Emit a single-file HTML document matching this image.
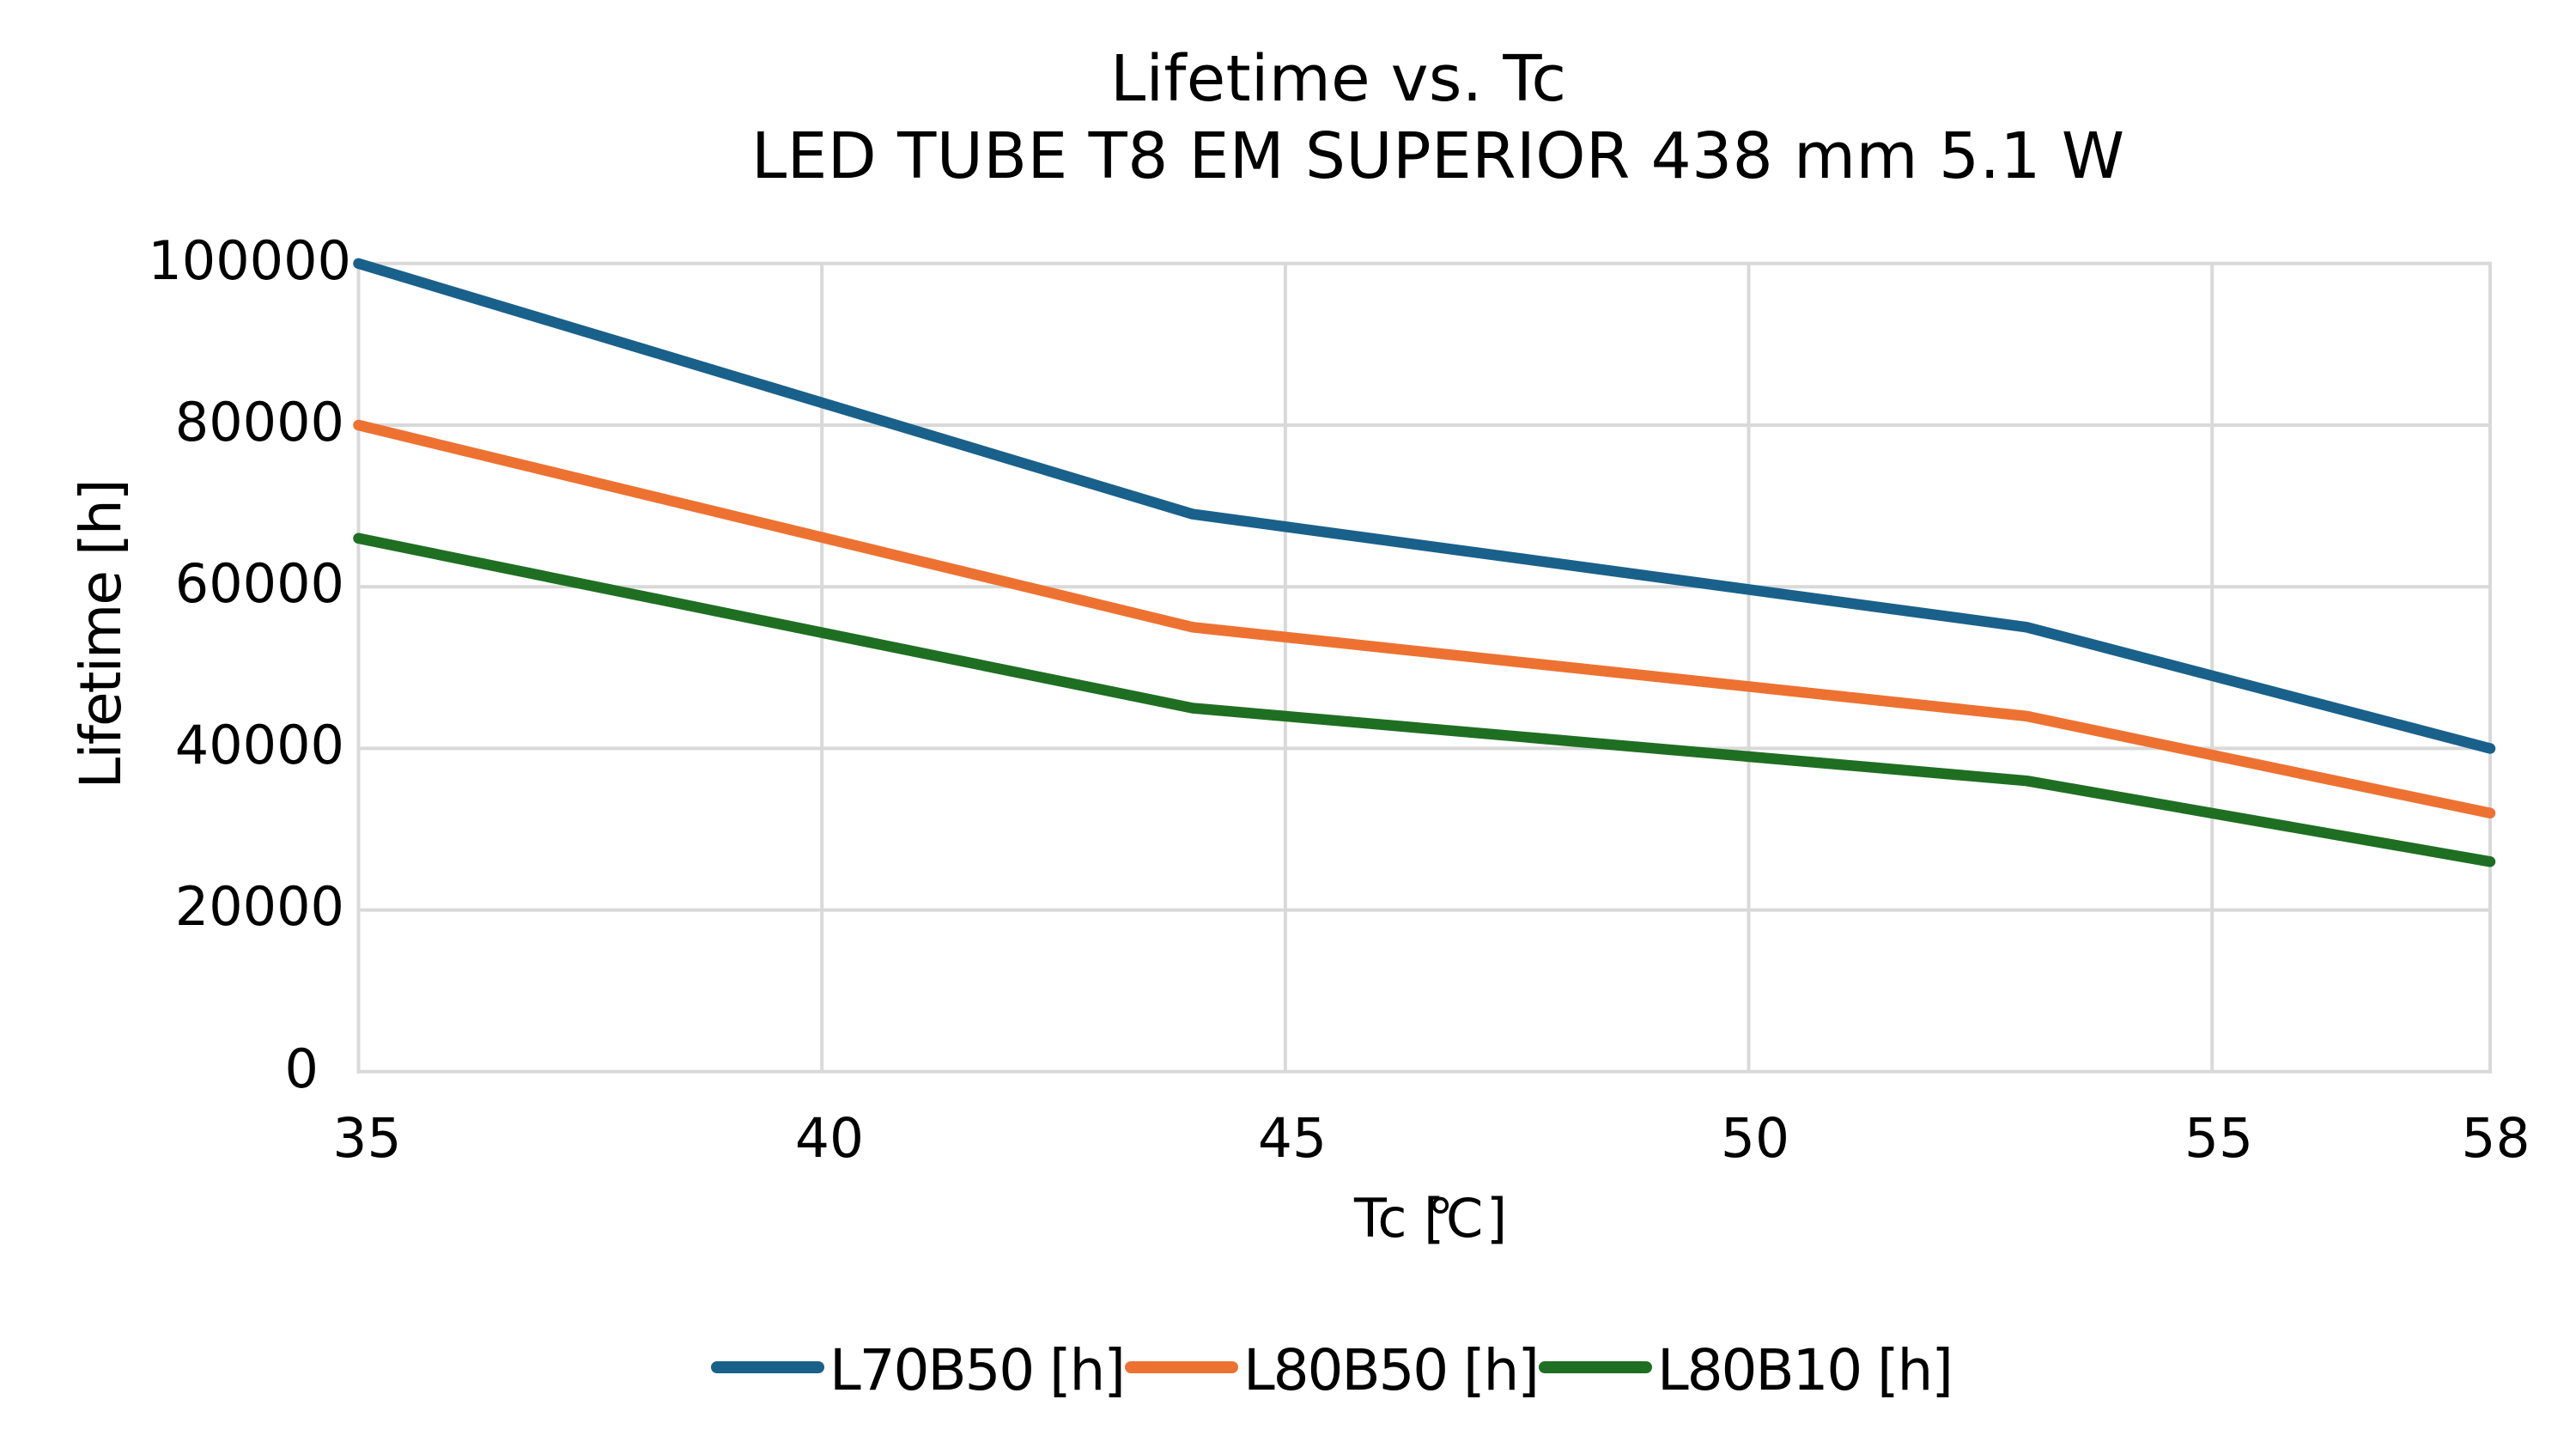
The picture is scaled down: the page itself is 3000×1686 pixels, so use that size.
<!DOCTYPE html>
<html>
<head>
<meta charset="utf-8">
<style>
  html, body { margin: 0; padding: 0; background: #ffffff; }
  body { width: 3000px; height: 1686px; overflow: hidden; }
  svg { display: block; }
  text { font-family: "DejaVu Sans", "Liberation Sans", sans-serif; fill: #000; }
</style>
</head>
<body>
<svg width="3000" height="1686" viewBox="0 0 3000 1686" xmlns="http://www.w3.org/2000/svg">
  <rect x="0" y="0" width="3000" height="1686" fill="#ffffff"/>

  <!-- Title -->
  <text x="1293" y="117" font-size="74" textLength="531" lengthAdjust="spacing">Lifetime vs. Tc</text>
  <text x="875" y="207" font-size="74" textLength="1599" lengthAdjust="spacing">LED TUBE T8 EM SUPERIOR 438 mm 5.1 W</text>

  <!-- Gridlines -->
  <g stroke="#d9d9d9" stroke-width="4" fill="none">
    <line x1="417.5" y1="306.8" x2="2900" y2="306.8"/>
    <line x1="417.5" y1="495.0" x2="2900" y2="495.0"/>
    <line x1="417.5" y1="683.2" x2="2900" y2="683.2"/>
    <line x1="417.5" y1="871.4" x2="2900" y2="871.4"/>
    <line x1="417.5" y1="1059.6" x2="2900" y2="1059.6"/>
    <line x1="415.5" y1="1247.8" x2="2902" y2="1247.8"/>
    <line x1="417.5" y1="306.8" x2="417.5" y2="1249.8"/>
    <line x1="957.2" y1="306.8" x2="957.2" y2="1247.8"/>
    <line x1="1496.9" y1="306.8" x2="1496.9" y2="1247.8"/>
    <line x1="2036.5" y1="306.8" x2="2036.5" y2="1247.8"/>
    <line x1="2576.2" y1="306.8" x2="2576.2" y2="1247.8"/>
    <line x1="2900" y1="304.8" x2="2900" y2="1249.8"/>
  </g>

  <!-- Y tick labels -->
  <g font-size="62" text-anchor="end">
    <text x="409" y="325">100000</text>
    <text x="401" y="513">80000</text>
    <text x="401" y="701">60000</text>
    <text x="401" y="889">40000</text>
    <text x="401" y="1077">20000</text>
    <text x="371" y="1266">0</text>
  </g>

  <!-- X tick labels -->
  <g font-size="63" text-anchor="middle">
    <text x="427.5" y="1347">35</text>
    <text x="966" y="1347">40</text>
    <text x="1505" y="1347">45</text>
    <text x="2044" y="1347">50</text>
    <text x="2584" y="1347">55</text>
    <text x="2906.5" y="1347">58</text>
  </g>

  <!-- Axis titles -->
  <text transform="translate(140,738) rotate(-90)" x="-180.5" y="0" font-size="66" textLength="361" lengthAdjust="spacing">Lifetime [h]</text>
  <text y="1440" font-size="62"><tspan x="1577">Tc [</tspan><tspan x="1662">°</tspan><tspan x="1684">C</tspan><tspan x="1731">]</tspan></text>

  <!-- Series -->
  <g fill="none" stroke-width="12.5" stroke-linejoin="round" stroke-linecap="round">
    <polyline stroke="#19618a" points="417.5,306.8 1388.9,598.6 2360.3,730.3 2900,871.5"/>
    <polyline stroke="#ed7232" points="417.5,495.0 1388.9,730.3 2360.3,833.9 2900,946.8"/>
    <polyline stroke="#1f6f22" points="417.5,626.8 1388.9,824.5 2360.3,909.2 2900,1003.3"/>
  </g>

  <!-- Legend -->
  <g stroke-width="14" stroke-linecap="round">
    <line x1="835" y1="1592" x2="953" y2="1592" stroke="#19618a"/>
    <line x1="1317" y1="1592" x2="1435" y2="1592" stroke="#ed7232"/>
    <line x1="1799" y1="1592" x2="1917" y2="1592" stroke="#1f6f22"/>
  </g>
  <g font-size="66">
    <text x="966" y="1618" textLength="345" lengthAdjust="spacing">L70B50 [h]</text>
    <text x="1448" y="1618" textLength="345" lengthAdjust="spacing">L80B50 [h]</text>
    <text x="1930" y="1618" textLength="345" lengthAdjust="spacing">L80B10 [h]</text>
  </g>
</svg>
</body>
</html>
